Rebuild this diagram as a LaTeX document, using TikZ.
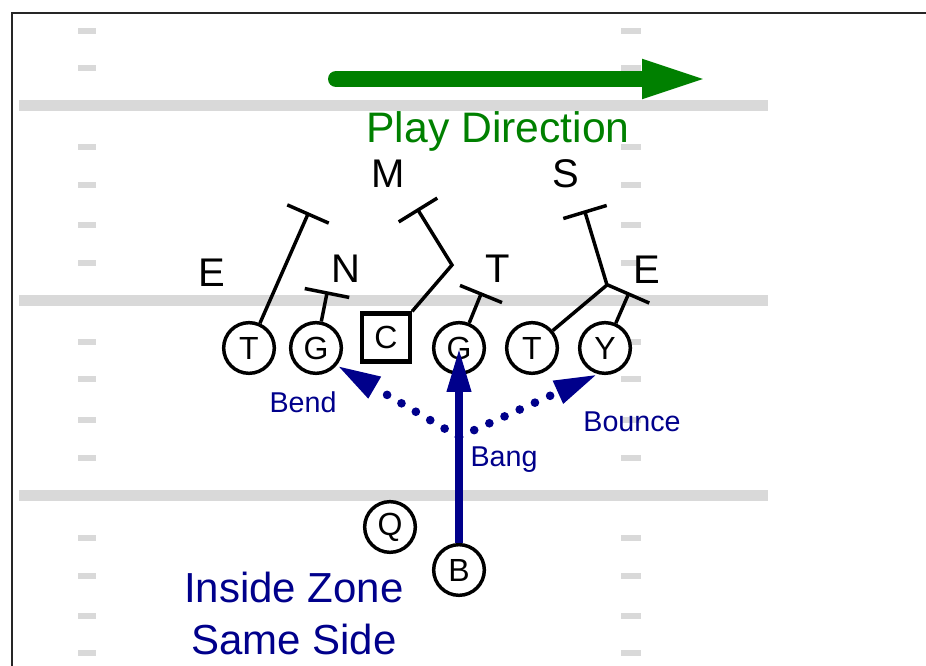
\documentclass[tikz,border=0pt]{standalone}
\usepackage{fontspec}
\setmainfont{Liberation Sans}
\usetikzlibrary{calc}
\usetikzlibrary{arrows.meta}
\definecolor{fieldgray}{RGB}{217,217,217}
\definecolor{playgreen}{RGB}{0,128,0}
\definecolor{runblue}{RGB}{0,0,139}
\tikzset{
 player/.style={draw, circle, fill=white, line width=2.6pt, minimum size=38pt, inner sep=0pt, font=\fontsize{24}{24}\selectfont},
 snapper/.style={draw, rectangle, fill=white, line width=3.2pt, minimum size=36pt, inner sep=0pt, font=\fontsize{24}{24}\selectfont},
 defender/.style={anchor=base, font=\fontsize{30}{30}\selectfont},
 assign/.style={black, line width=2.6pt},
 runlabel/.style={anchor=base, text=runblue, font=\fontsize{21.5}{21.5}\selectfont},
 runpath/.style={runblue, -{Triangle[length=33pt, width=17pt]}},
}
\begin{document}
\begin{tikzpicture}[x=0.75pt, y=-0.75pt]
\useasboundingbox (0,0) rectangle (926,666);
\foreach \y in {106,301,496} {
 \fill[fieldgray] (19,\y-5.5) rectangle (768,\y+5.5);
}
\foreach \y in {31,68,147,185,225,263,342,379,420,458,538,576,616,653} {
 \fill[fieldgray] (78,\y-3) rectangle (96,\y+3);
 \fill[fieldgray] (621,\y-3) rectangle (641,\y+3);
}
\draw[black!85, line width=2.2pt] (12,666) -- (12,13) -- (926,13);
\coordinate (dirL) at (336,79);
\coordinate (dirR) at (710,79);
\draw[playgreen, line width=12pt, line cap=round, -{Triangle[length=51pt, width=26pt]}] (dirL) -- (dirR);
\node[anchor=base, text=playgreen, font=\fontsize{32}{32}\selectfont] (dirtxt) at (498,143) {Play Direction};
% offense
\foreach \n/\x/\t in {T1/249/T, G1/316/G, G2/459/G, T2/532/T, Y/605/Y} {
 \node[player] (\n) at (\x,348) {\t};
}
\node[snapper] (C) at (386,337.5) {C};
\node[player] (Q) at (390,527) {Q};
\node[player] (B) at (459,570) {B};
% defense
\node[defender] (lE1) at (212,287) {E};
\node[defender] (lN) at (346,283) {N};
\node[defender] (lM) at (388,188) {M};
\node[defender] (lT) at (498,283) {T};
\node[defender] (lS) at (566,188) {S};
\node[defender] (lE2) at (647,284) {E};
\coordinate (dE1) at (308,214);
\coordinate (dN) at (327,293);
\coordinate (kM) at (452,265);
\coordinate (dM) at (418,210);
\coordinate (dT) at (481,294);
\coordinate (kS) at (607,285);
\coordinate (dS) at (585,212);
\coordinate (dE2) at (628.5,294);
\foreach \p/\d in {T1/dE1, G1/dN, G2/dT, Y/dE2} {
 \draw[assign] (\p) -- (\d) ($(\d)!17pt!90:(\p)$) -- ($(\d)!17pt!-90:(\p)$);
}
\draw[assign] (C.north east) -- (kM) -- (dM) ($(dM)!17pt!90:(kM)$) -- ($(dM)!17pt!-90:(kM)$);
\draw[assign] (T2) -- (kS) -- (dS) ($(dS)!17pt!90:(kS)$) -- ($(dS)!17pt!-90:(kS)$);
% run
\coordinate (jn) at (459,437);
\draw[runpath, line width=6pt] (B) -- (G2.center);
\draw[runpath, line width=6.5pt, line cap=round, dash pattern=on 0pt off 12.5pt] (jn) -- (G1.320);
\draw[runpath, line width=6.5pt, line cap=round, dash pattern=on 0pt off 12.5pt] (jn) -- (Y.255);
\node[runlabel] (bend) at (303,413) {Bend};
\node[runlabel] (bounce) at (632,432) {Bounce};
\node[runlabel] (bang) at (504,467) {Bang};
\node[anchor=base, text=runblue, font=\fontsize{31.5}{31.5}\selectfont] (iz1) at (294,603) {Inside Zone};
\node[anchor=base, text=runblue, font=\fontsize{31.5}{31.5}\selectfont] (iz2) at (294,655) {Same Side};
\end{tikzpicture}
\end{document}
